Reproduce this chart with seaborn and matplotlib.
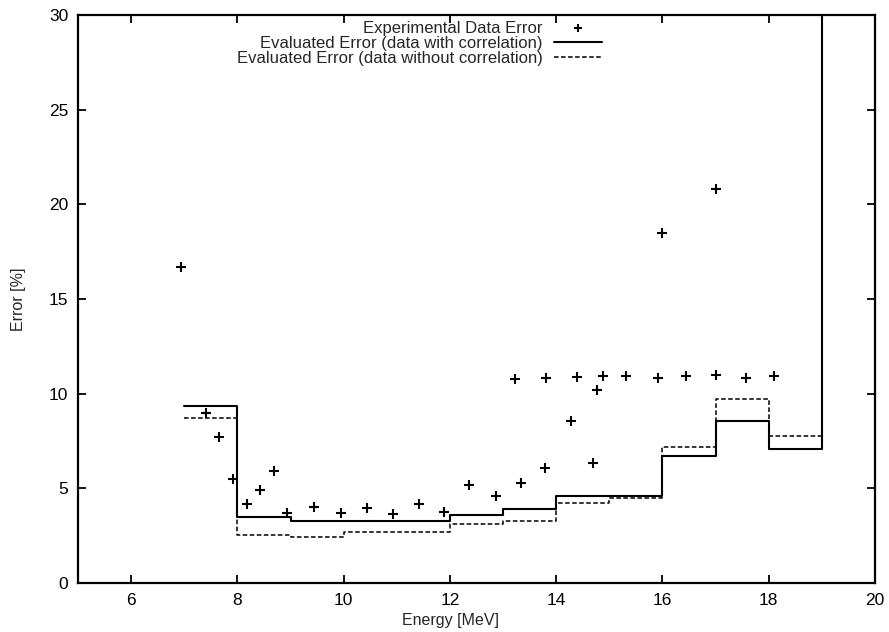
import matplotlib
matplotlib.use("Agg")
import matplotlib.pyplot as plt
import seaborn as sns
import pandas as pd
import numpy as np

# ---- data ----
exp_energy = [6.93, 7.40, 7.66, 7.91, 8.18, 8.43, 8.69, 8.94, 9.44, 9.95,
              10.43, 10.92, 11.41, 11.89, 12.36, 12.87, 13.23, 13.33, 13.80, 13.79,
              14.28, 14.39, 14.69, 14.76, 14.89, 15.32, 15.92, 16.00, 16.44, 17.00,
              17.00, 17.57, 18.09]
exp_error = [16.7, 8.98, 7.69, 5.49, 4.16, 4.92, 5.89, 3.69, 4.04, 3.69,
             3.95, 3.63, 4.16, 3.77, 5.20, 4.60, 10.80, 5.27, 10.85, 6.07,
             8.57, 10.86, 6.33, 10.20, 10.95, 10.95, 10.85, 18.50, 10.95, 20.80,
             11.00, 10.85, 10.95]

corr_edges = [7, 8, 9, 12, 13, 14, 16, 17, 18, 19, 20]
corr_values = [9.33, 3.46, 3.30, 3.60, 3.90, 4.62, 6.72, 8.53, 7.07, 60.0]

nocorr_edges = [7, 8, 9, 10, 12, 13, 14, 15, 16, 17, 18, 19]
nocorr_values = [8.71, 2.54, 2.45, 2.71, 3.10, 3.30, 4.25, 4.51, 7.20, 9.73, 7.78]

x_ticks = [6, 8, 10, 12, 14, 16, 18, 20]
y_ticks = [0, 5, 10, 15, 20, 25, 30]

lab_exp = "Experimental Data Error"
lab_corr = "Evaluated Error (data with correlation)"
lab_nocorr = "Evaluated Error (data without correlation)"

sns.set_style("ticks")
plt.rcParams['font.family'] = ['Liberation Sans', 'DejaVu Sans']

fig = plt.figure(figsize=(8.89, 6.32), dpi=100)
ax = fig.add_axes([78/889, 49/632, 797/889, 568/632])

df_exp = pd.DataFrame({"E": exp_energy, "err": exp_error})
df_corr = pd.DataFrame({"E": corr_edges, "err": corr_values + [corr_values[-1]]})
df_nocorr = pd.DataFrame({"E": nocorr_edges, "err": nocorr_values + [nocorr_values[-1]]})

sns.scatterplot(data=df_exp, x="E", y="err", marker="+", s=60, color="black",
                linewidth=1.5, ax=ax, label=lab_exp, zorder=3)
sns.lineplot(data=df_corr, x="E", y="err", drawstyle="steps-post", color="black",
             linewidth=1.5, estimator=None, ax=ax, label=lab_corr)
sns.lineplot(data=df_nocorr, x="E", y="err", drawstyle="steps-post", color="black",
             linewidth=1.1, linestyle=(0, (3.0, 1.6)), estimator=None, ax=ax,
             label=lab_nocorr)

ax.set_xlim(5, 20)
ax.set_ylim(0, 30)
ax.set_xticks(x_ticks)
ax.set_yticks(y_ticks)
ax.tick_params(direction="in", length=6, width=1.3, top=True, right=True,
               labelsize=12.5, pad=7, colors="black")
for sp in ax.spines.values():
    sp.set_linewidth(1.6)
    sp.set_color("black")

ax.set_xlabel("Energy [MeV]", fontsize=11.5)
ax.set_ylabel("Error [%]", fontsize=11.5)
ax.xaxis.set_label_coords(0.467, -0.052)
ax.yaxis.set_label_coords(-0.065, 0.5)

leg = ax.legend(loc="upper right", bbox_to_anchor=(0.6575, 0.99), frameon=False,
                markerfirst=False, fontsize=12, handlelength=2.9,
                handletextpad=0.65, labelspacing=0.0, borderpad=0,
                borderaxespad=0)
for h in leg.legend_handles:
    try:
        h.set_sizes([40])
    except AttributeError:
        pass

fig.savefig("out.png", dpi=100, facecolor="white")
